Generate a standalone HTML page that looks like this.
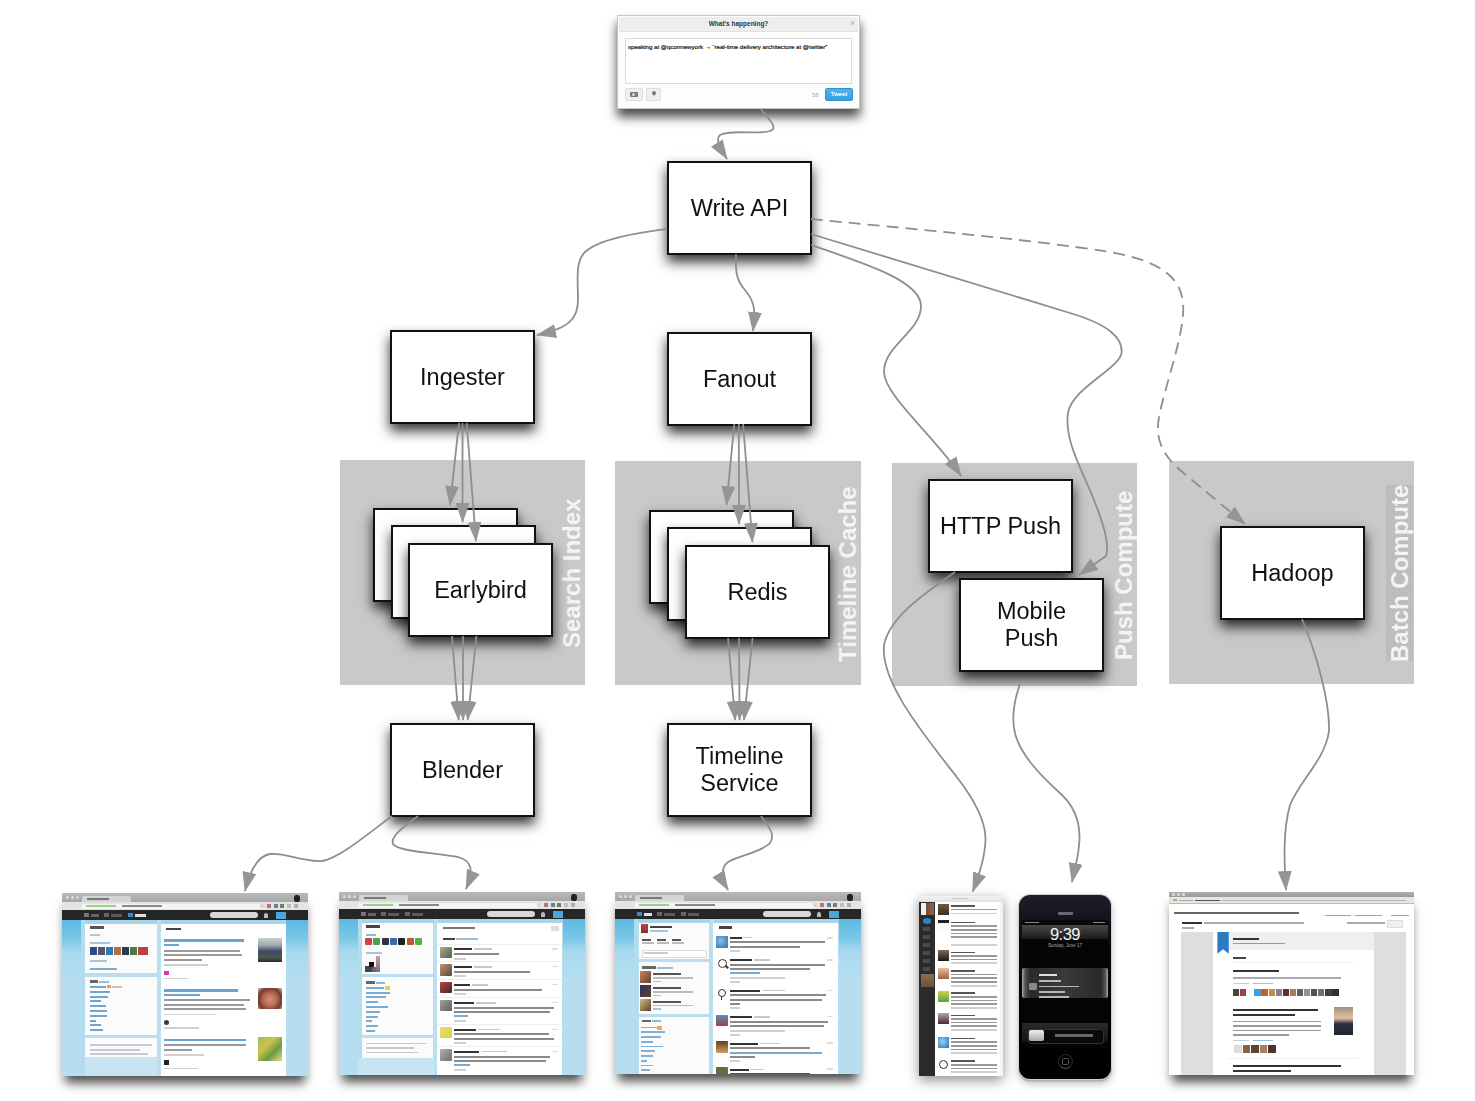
<!DOCTYPE html>
<html><head><meta charset="utf-8">
<style>
html,body{margin:0;padding:0;background:#fff;}
body{width:1475px;height:1101px;position:relative;overflow:hidden;font-family:"Liberation Sans",sans-serif;}
.abs{position:absolute;}
.panel{position:absolute;background:#c9c9c9;}
.plabel{position:absolute;font-weight:bold;font-size:24px;color:#f4f4f4;white-space:nowrap;transform-origin:0 0;transform:rotate(-90deg);line-height:24px;}
.box{position:absolute;box-sizing:border-box;width:145px;height:94px;border:2px solid #111;background:#fff;box-shadow:0 7px 12px rgba(0,0,0,0.8);display:flex;align-items:center;justify-content:center;text-align:center;font-size:23.5px;line-height:27px;color:#111;will-change:transform;}
svg{position:absolute;left:0;top:0;}
.ss{position:absolute;overflow:hidden;box-shadow:0 10px 10px -3px rgba(0,0,0,0.7);background:#b8def0;}
.ss div{position:absolute;}
.tab{top:0;left:0;width:100%;height:9px;background:linear-gradient(#b9b9bd,#a6a6ab);}
.addr{top:9px;left:0;width:100%;height:8px;background:#e4e4e4;border-bottom:0.5px solid #bbb;}
.nav{top:17px;left:0;width:100%;height:10px;background:#262626;}
.bgl{top:27px;height:160px;background:linear-gradient(#5cb8e0 0px,#7cc8e8 20px,#a8d9ee 32px,#b5def0 60px);}
.wp{background:#fbfbfb;}
.t{height:2px;background:#c2c2c2;}
.tb{height:2.5px;background:#6aa5d2;}
.td{height:2.5px;background:#555;}
.dev{position:absolute;overflow:hidden;}
.dev div{position:absolute;}
</style></head><body>
<div class="panel" style="left:340px;top:460px;width:245px;height:225px;"></div>
<div class="panel" style="left:615px;top:461px;width:246px;height:224px;"></div>
<div class="panel" style="left:892px;top:463px;width:245px;height:223px;"></div>
<div class="panel" style="left:1169px;top:461px;width:245px;height:223px;"></div>
<div class="abs" style="left:1386px;top:485px;width:27px;height:176px;background:#bdbdbd;"></div>
<div class="plabel" style="left:560px;top:648px;">Search Index</div>
<div class="plabel" style="left:836px;top:662px;">Timeline Cache</div>
<div class="plabel" style="left:1112px;top:660px;">Push Compute</div>
<div class="plabel" style="left:1388px;top:662px;">Batch Compute</div>
<div class="box" style="left:667px;top:161px;">Write API</div>
<div class="box" style="left:390px;top:330px;">Ingester</div>
<div class="box" style="left:667px;top:332px;">Fanout</div>
<div class="box" style="left:373px;top:508px;"></div>
<div class="box" style="left:391px;top:525px;"></div>
<div class="box" style="left:408px;top:543px;">Earlybird</div>
<div class="box" style="left:649px;top:510px;"></div>
<div class="box" style="left:667px;top:527px;"></div>
<div class="box" style="left:685px;top:545px;">Redis</div>
<div class="box" style="left:928px;top:479px;">HTTP Push</div>
<div class="box" style="left:959px;top:578px;">Mobile<br>Push</div>
<div class="box" style="left:1220px;top:526px;">Hadoop</div>
<div class="box" style="left:390px;top:723px;">Blender</div>
<div class="box" style="left:667px;top:723px;">Timeline<br>Service</div>
<div id="tweet" class="abs" style="left:617px;top:15px;width:243px;height:94px;box-sizing:border-box;background:#fdfdfd;border:1px solid #c4c4c4;box-shadow:0 8px 10px rgba(0,0,0,0.7);">
 <div class="abs" style="left:1px;top:1px;width:239px;height:14px;background:#eeeeee;border-bottom:1px solid #e2e2e2;"></div>
 <div class="abs" style="left:0;top:4px;width:241px;text-align:center;font:bold 6.5px/8px 'Liberation Sans',sans-serif;color:#333;">What's happening?</div>
 <div class="abs" style="left:232px;top:3px;font:9px/9px 'Liberation Sans',sans-serif;color:#aaa;">&#215;</div>
 <div class="abs" style="left:7px;top:22px;width:227px;height:46px;box-sizing:border-box;border:1px solid #dadada;background:#fff;"></div>
 <div class="abs" style="left:10px;top:27px;font:6.1px/8px 'Liberation Sans',sans-serif;color:#111;-webkit-text-stroke:0.2px #222;white-space:nowrap;">speaking at @qconnewyork &#8594; &#8220;real-time delivery architecture at @twitter&#8221;</div>
 <div class="abs" style="left:7px;top:72px;width:18px;height:13px;box-sizing:border-box;background:#f0f0f0;border:1px solid #ddd;border-radius:2px;"></div>
 <div class="abs" style="left:11.5px;top:76px;width:8px;height:5px;background:#777;border-radius:1px;"></div>
 <div class="abs" style="left:14px;top:77px;width:3px;height:3px;background:#ddd;border-radius:50%;"></div>
 <div class="abs" style="left:28px;top:72px;width:15px;height:13px;box-sizing:border-box;background:#f0f0f0;border:1px solid #ddd;border-radius:2px;"></div>
 <div class="abs" style="left:33.5px;top:75px;width:4px;height:4px;background:#777;border-radius:50% 50% 50% 0;transform:rotate(-45deg);"></div>
 <div class="abs" style="left:194px;top:76px;font:6px/6px 'Liberation Sans',sans-serif;color:#aaa;">58</div>
 <div class="abs" style="left:207px;top:72px;width:28px;height:13px;box-sizing:border-box;background:linear-gradient(#52b4e8,#33a0dc);border:1px solid #2e94d0;border-radius:2px;color:#fff;font:bold 6px/11px 'Liberation Sans',sans-serif;text-align:center;">Tweet</div>
</div>

<!-- SS1 -->
<div class="ss" style="left:62px;top:893px;width:246px;height:183px;">
 <div class="tab"></div>
 <div style="left:4px;top:3px;width:3px;height:3px;border-radius:50%;background:#ddd;"></div>
 <div style="left:9px;top:3px;width:3px;height:3px;border-radius:50%;background:#ddd;"></div>
 <div style="left:14px;top:3px;width:3px;height:3px;border-radius:50%;background:#ddd;"></div>
 <div style="left:20px;top:3px;width:49px;height:6px;background:#d4d4d6;border-radius:2px 2px 0 0;"></div>
 <div style="left:25px;top:5px;width:22px;height:1.5px;background:#777;"></div>
 <div style="left:232px;top:1.5px;width:6px;height:7px;background:#222;border-radius:40%;"></div>
 <div class="addr"></div>
 <div style="left:20px;top:10.5px;width:180px;height:5px;background:#f4f4f4;"></div>
 <div style="left:24px;top:12px;width:30px;height:2px;background:#9bd08a;"></div>
 <div style="left:60px;top:12px;width:40px;height:2px;background:#8a8a8a;"></div>
 <div style="left:198.0px;top:11px;width:4px;height:4px;background:#e8d0d0;"></div><div style="left:204.8px;top:11px;width:4px;height:4px;background:#c07070;"></div><div style="left:211.6px;top:11px;width:4px;height:4px;background:#6080a0;"></div><div style="left:218.4px;top:11px;width:4px;height:4px;background:#708060;"></div><div style="left:225.2px;top:11px;width:4px;height:4px;background:#c0c0c0;"></div><div style="left:232.0px;top:11px;width:4px;height:4px;background:#b0b0b0;"></div>
 <div class="nav"></div>
 <div style="left:22px;top:20px;width:5px;height:4px;background:#777;"></div>
 <div style="left:29px;top:20.5px;width:8px;height:3px;background:#666;"></div>
 <div style="left:42px;top:20px;width:5px;height:4px;background:#666;"></div>
 <div style="left:49px;top:20.5px;width:11px;height:3px;background:#5a5a5a;"></div>
 <div style="left:66px;top:20px;width:5px;height:4px;background:#3a8ad0;"></div>
 <div style="left:73px;top:20.5px;width:11px;height:3px;background:#e0e0e0;"></div>
 <div style="left:147.5px;top:19px;width:48px;height:6px;background:#d8d8d8;border-radius:3px;"></div>
 <div style="left:201.5px;top:19.5px;width:4px;height:5.5px;background:#bbb;border-radius:2px 2px 0 0;"></div>
 <div style="left:214px;top:18.5px;width:9.5px;height:7px;background:#4aa6dc;"></div>
 <div class="bgl" style="left:0;width:19px;"></div>
 <div class="bgl" style="left:223.5px;width:23px;"></div>
 <div style="left:19px;top:27px;width:204.5px;height:4px;background:#a6d5ea;"></div>
 <div style="left:19px;top:27px;width:4px;height:156px;background:#b4dcef;"></div>
 <div style="left:95px;top:27px;width:4px;height:156px;background:#b9dff0;"></div>
 <div class="wp" style="left:23px;top:30.5px;width:72px;height:49.5px;"></div>
 <div class="td" style="left:28px;top:33px;width:14px;background:#555;"></div>
 <div class="t" style="left:28px;top:41px;width:10px;"></div>
 <div class="t" style="left:28px;top:49px;width:20px;background:#a9c4d8;"></div>
 <div style="left:28px;top:53.5px;width:58px;height:8px;background:linear-gradient(90deg,#2a4a8a 0,#2a4a8a 7px,#fff 7px,#fff 8px,#556 8px,#556 15px,#fff 15px,#fff 16px,#2c7ab0 16px,#2c7ab0 23px,#fff 23px,#fff 24px,#b07040 24px,#b07040 31px,#fff 31px,#fff 32px,#2a3a50 32px,#2a3a50 39px,#fff 39px,#fff 40px,#4a7a4a 40px,#4a7a4a 47px,#fff 47px,#fff 48px,#c04040 48px,#c04040 56px);"></div>
 <div class="t" style="left:28px;top:67px;width:17px;background:#a9c4d8;"></div>
 <div class="t" style="left:28px;top:75px;width:27px;background:#7ea9cc;"></div>
 <div class="wp" style="left:23px;top:84px;width:72px;height:57.7px;"></div>
 <div class="td" style="left:28px;top:87px;width:8px;background:#666;"></div>
 <div class="t" style="left:37px;top:87.5px;width:10px;background:#9cc0dc;"></div>
 <div class="t" style="left:28px;top:92.5px;width:16px;background:#6fa5d0;"></div>
 <div style="left:45px;top:91.5px;width:4px;height:3.5px;background:#f0a040;"></div>
 <div class="t" style="left:50px;top:92.5px;width:10px;background:#d8c0a0;"></div>
 <div class="t" style="left:28px;top:97.5px;width:20px;background:#6fa5d0;"></div>
 <div class="t" style="left:28px;top:102.5px;width:18px;background:#6fa5d0;"></div>
 <div class="t" style="left:28px;top:107px;width:11px;background:#6fa5d0;"></div>
 <div class="t" style="left:28px;top:111.5px;width:16px;background:#6fa5d0;"></div>
 <div class="t" style="left:28px;top:116.5px;width:17px;background:#6fa5d0;"></div>
 <div class="t" style="left:28px;top:121.5px;width:17px;background:#6fa5d0;"></div>
 <div class="t" style="left:28px;top:126.5px;width:6px;background:#6fa5d0;"></div>
 <div class="t" style="left:28px;top:131px;width:11px;background:#6fa5d0;"></div>
 <div class="t" style="left:28px;top:136px;width:13px;background:#6fa5d0;"></div>
 <div class="wp" style="left:23px;top:145px;width:72px;height:18.5px;"></div>
 <div class="t" style="left:28px;top:151px;width:62px;background:#c8c8d0;"></div>
 <div class="t" style="left:28px;top:155.5px;width:50px;background:#c8c8d0;"></div>
 <div class="t" style="left:28px;top:160px;width:58px;background:#c8c8d0;height:1.5px;"></div>
 <div style="left:23px;top:163.5px;width:72px;height:20px;background:#c8e4f2;"></div>
 <div class="wp" style="left:99px;top:30.5px;width:124.5px;height:152.5px;background:#fff;"></div>
 <div class="td" style="left:104px;top:34.5px;width:15px;background:#444;"></div>
 <div class="tb" style="left:102px;top:46px;width:80px;"></div>
 <div class="tb" style="left:102px;top:50.8px;width:15px;"></div>
 <div class="t" style="left:102px;top:57px;width:76px;background:#9a9a9a;"></div>
 <div class="t" style="left:102px;top:61.2px;width:78px;background:#9a9a9a;"></div>
 <div class="t" style="left:102px;top:65.6px;width:38px;background:#9a9a9a;"></div>
 <div class="t" style="left:102px;top:71px;width:44px;background:#d0d0d0;height:1.5px;"></div>
 <div style="left:102px;top:78px;width:5px;height:4px;background:#d040a0;"></div>
 <div class="t" style="left:102px;top:84.5px;width:24px;background:#d0d0d0;height:1.5px;"></div>
 <div style="left:196px;top:45.2px;width:24px;height:23.5px;background:linear-gradient(#c8d0d0 0,#a0a8b0 30%,#3a4a6a 55%,#4a5a4a 80%,#2a3020 100%);"></div>
 <div class="tb" style="left:102px;top:96px;width:74px;"></div>
 <div class="tb" style="left:102px;top:100.6px;width:36px;"></div>
 <div class="t" style="left:102px;top:106.3px;width:86px;background:#9a9a9a;"></div>
 <div class="t" style="left:102px;top:110.5px;width:80px;background:#9a9a9a;"></div>
 <div class="t" style="left:102px;top:114.9px;width:82px;background:#9a9a9a;"></div>
 <div class="t" style="left:102px;top:120.5px;width:52px;background:#d0d0d0;height:1.5px;"></div>
 <div style="left:102px;top:127px;width:5px;height:5px;background:#443a3a;border-radius:50%;"></div>
 <div class="t" style="left:102px;top:134px;width:35px;background:#d0d0d0;height:1.5px;"></div>
 <div style="left:196px;top:95px;width:24px;height:20.5px;background:radial-gradient(circle at 50% 55%,#d89080 0,#b86a50 40%,#703830 70%,#d8c8c0 100%);"></div>
 <div class="tb" style="left:102px;top:145.5px;width:82px;"></div>
 <div class="t" style="left:102px;top:151px;width:82px;background:#9a9a9a;"></div>
 <div class="t" style="left:102px;top:155.6px;width:28px;background:#9a9a9a;"></div>
 <div class="t" style="left:102px;top:161px;width:40px;background:#d0d0d0;height:1.5px;"></div>
 <div style="left:102px;top:166.5px;width:5px;height:5px;background:#222;"></div>
 <div class="t" style="left:102px;top:174.5px;width:34px;background:#d0d0d0;height:1.5px;"></div>
 <div style="left:196px;top:144px;width:24px;height:24px;background:linear-gradient(135deg,#9ac060 0,#d0c050 35%,#6a9a40 65%,#e0e090 100%);"></div>
</div>


<!-- SS2 -->
<div class="ss" style="left:339px;top:892px;width:246px;height:183px;">
<div class="tab"></div>
<div style="left:4px;top:3px;width:3px;height:3px;background:#dcdcdc;border-radius:50%;"></div>
<div style="left:9px;top:3px;width:3px;height:3px;background:#dcdcdc;border-radius:50%;"></div>
<div style="left:14px;top:3px;width:3px;height:3px;background:#dcdcdc;border-radius:50%;"></div>
<div style="left:20px;top:3px;width:49px;height:6px;background:#d4d4d6;border-radius:2px 2px 0 0;"></div>
<div style="left:25px;top:5px;width:22px;height:1.5px;background:#777;"></div>
<div style="left:232px;top:1.5px;width:6px;height:7px;background:#222;border-radius:40%;"></div>
<div class="addr"></div>
<div style="left:20px;top:10.5px;width:180px;height:5px;background:#f4f4f4;"></div>
<div style="left:24px;top:12px;width:30px;height:2px;background:#9bd08a;"></div>
<div style="left:60px;top:12px;width:40px;height:2px;background:#8a8a8a;"></div>
<div style="left:198.0px;top:11px;width:4px;height:4px;background:#e8d0d0;"></div>
<div style="left:204.8px;top:11px;width:4px;height:4px;background:#c07070;"></div>
<div style="left:211.6px;top:11px;width:4px;height:4px;background:#6080a0;"></div>
<div style="left:218.4px;top:11px;width:4px;height:4px;background:#708060;"></div>
<div style="left:225.2px;top:11px;width:4px;height:4px;background:#c0c0c0;"></div>
<div style="left:232.0px;top:11px;width:4px;height:4px;background:#b0b0b0;"></div>
<div class="nav"></div>
<div style="left:22px;top:20px;width:5px;height:4px;background:#777;"></div>
<div style="left:29px;top:20.5px;width:8px;height:3px;background:#666;"></div>
<div style="left:42px;top:20px;width:5px;height:4px;background:#666;"></div>
<div style="left:49px;top:20.5px;width:11px;height:3px;background:#5a5a5a;"></div>
<div style="left:66px;top:20px;width:5px;height:4px;background:#666;"></div>
<div style="left:73px;top:20.5px;width:11px;height:3px;background:#5a5a5a;"></div>
<div style="left:147.5px;top:19px;width:48px;height:6px;background:#d8d8d8;border-radius:3px;"></div>
<div style="left:201.5px;top:19.5px;width:4px;height:5.5px;background:#bbb;border-radius:2px 2px 0 0;"></div>
<div style="left:214px;top:18.5px;width:9.5px;height:7px;background:#4aa6dc;"></div>
<div class="bgl" style="left:0;width:19px;"></div>
<div class="bgl" style="left:223.5px;width:23px;"></div>
<div style="left:19px;top:27px;width:204.5px;height:4px;background:#a6d5ea;"></div>
<div style="left:19px;top:27px;width:4px;height:156px;background:#b4dcef;"></div>
<div style="left:95px;top:27px;width:4px;height:156px;background:#b9dff0;"></div>
<div style="left:23px;top:30.5px;width:71px;height:51.8px;background:#fbfbfb;"></div>
<div style="left:27px;top:33px;width:14px;height:2.5px;background:#444;"></div>
<div style="left:27px;top:41.8px;width:10px;height:2px;background:#8ab8dc;"></div>
<div style="left:26.0px;top:46px;width:7px;height:7px;background:#d04040;border-radius:1px;"></div>
<div style="left:34.3px;top:46px;width:7px;height:7px;background:#50a050;border-radius:1px;"></div>
<div style="left:42.6px;top:46px;width:7px;height:7px;background:#303040;border-radius:1px;"></div>
<div style="left:50.900000000000006px;top:46px;width:7px;height:7px;background:#3a6ab0;border-radius:1px;"></div>
<div style="left:59.2px;top:46px;width:7px;height:7px;background:#222;border-radius:1px;"></div>
<div style="left:67.5px;top:46px;width:7px;height:7px;background:#b06030;border-radius:1px;"></div>
<div style="left:75.80000000000001px;top:46px;width:7px;height:7px;background:#60b040;border-radius:1px;"></div>
<div style="left:27px;top:59.5px;width:16px;height:2px;background:#a9c4d8;"></div>
<div style="left:25.5px;top:74px;width:7px;height:5.5px;background:#445;"></div>
<div style="left:29.5px;top:70px;width:5px;height:4.5px;background:#111;"></div>
<div style="left:33px;top:75px;width:5px;height:5px;background:#667;"></div>
<div style="left:36.5px;top:63.6px;width:4px;height:16px;background:linear-gradient(#c0a8a8,#806a70);"></div>
<div style="left:23px;top:85px;width:71px;height:57.7px;background:#fbfbfb;"></div>
<div style="left:27px;top:89.3px;width:9px;height:2.5px;background:#666;"></div>
<div style="left:37px;top:89.8px;width:9px;height:2px;background:#8ab8dc;"></div>
<div style="left:27px;top:94.7px;width:18px;height:2px;background:#78acd4;"></div>
<div style="left:27px;top:99.5px;width:24px;height:2px;background:#78acd4;"></div>
<div style="left:27px;top:104.4px;width:20px;height:2px;background:#78acd4;"></div>
<div style="left:27px;top:109.2px;width:12px;height:2px;background:#78acd4;"></div>
<div style="left:27px;top:114px;width:22px;height:2px;background:#78acd4;"></div>
<div style="left:27px;top:118.8px;width:14px;height:2px;background:#78acd4;"></div>
<div style="left:27px;top:123.5px;width:12px;height:2px;background:#78acd4;"></div>
<div style="left:27px;top:128.3px;width:6px;height:2px;background:#78acd4;"></div>
<div style="left:27px;top:133px;width:12px;height:2px;background:#78acd4;"></div>
<div style="left:27px;top:138px;width:9px;height:2px;background:#78acd4;"></div>
<div style="left:46px;top:93.5px;width:5px;height:4px;background:#e8d050;"></div>
<div style="left:23px;top:146px;width:71px;height:19.8px;background:#fbfbfb;"></div>
<div style="left:27px;top:150.7px;width:60px;height:1.6px;background:#c8c8d0;"></div>
<div style="left:27px;top:155.3px;width:48px;height:1.6px;background:#c8c8d0;"></div>
<div style="left:27px;top:159.8px;width:52px;height:1.6px;background:#c8c8d0;"></div>
<div style="left:19px;top:166px;width:76px;height:20px;background:#c8e4f2;"></div>
<div style="left:98px;top:30.5px;width:124.8px;height:152.5px;background:#fff;"></div>
<div style="left:104px;top:34.5px;width:32px;height:2.8px;background:#777;"></div>
<div style="left:212px;top:33.5px;width:8px;height:5px;background:#ddd;"></div>
<div style="left:104px;top:45.5px;width:12px;height:2.5px;background:#444;"></div>
<div style="left:117px;top:46px;width:22px;height:2px;background:#9cc0dc;"></div>
<div style="left:101px;top:54.6px;width:11.6px;height:11.4px;background:linear-gradient(135deg,#c0a090,#3a6a4a);border-radius:1px;"></div>
<div style="left:115.3px;top:56.3px;width:18.0px;height:2px;background:#333;"></div>
<div style="left:135.3px;top:56.3px;width:18.0px;height:1.6px;background:#c8c8c8;"></div>
<div style="left:115.3px;top:60.9px;width:45px;height:2px;background:#8a8a8a;"></div>
<div style="left:115.3px;top:65.5px;width:12px;height:2px;background:#d0d0d0;"></div>
<div style="left:213px;top:56.1px;width:6px;height:1.5px;background:#ddd;"></div>
<div style="left:98px;top:51.6px;width:124.8px;height:0.6px;background:#eee;"></div>
<div style="left:101px;top:72.4px;width:11.6px;height:11.4px;background:linear-gradient(135deg,#c09070,#5a4a3a);border-radius:1px;"></div>
<div style="left:115.3px;top:74px;width:18.0px;height:2px;background:#333;"></div>
<div style="left:135.3px;top:74px;width:18.0px;height:1.6px;background:#c8c8c8;"></div>
<div style="left:115.3px;top:78.7px;width:76px;height:2px;background:#8a8a8a;"></div>
<div style="left:115.3px;top:83.3px;width:12px;height:2px;background:#d0d0d0;"></div>
<div style="left:213px;top:73.9px;width:6px;height:1.5px;background:#ddd;"></div>
<div style="left:98px;top:69.4px;width:124.8px;height:0.6px;background:#eee;"></div>
<div style="left:101px;top:90px;width:11.6px;height:11.4px;background:linear-gradient(135deg,#c04040,#3a2a2a);border-radius:1px;"></div>
<div style="left:115.3px;top:92.4px;width:16.2px;height:2px;background:#333;"></div>
<div style="left:133.3px;top:92.4px;width:16.2px;height:1.6px;background:#c8c8c8;"></div>
<div style="left:115.3px;top:96.8px;width:88px;height:2px;background:#8a8a8a;"></div>
<div style="left:115.3px;top:101.4px;width:12px;height:2px;background:#d0d0d0;"></div>
<div style="left:213px;top:91.5px;width:6px;height:1.5px;background:#ddd;"></div>
<div style="left:98px;top:87px;width:124.8px;height:0.6px;background:#eee;"></div>
<div style="left:101px;top:108px;width:11.6px;height:11.4px;background:linear-gradient(135deg,#a0a0a0,#606060);border-radius:1px;"></div>
<div style="left:115.3px;top:110.2px;width:19.8px;height:2px;background:#333;"></div>
<div style="left:137.3px;top:110.2px;width:19.8px;height:1.6px;background:#c8c8c8;"></div>
<div style="left:115.3px;top:114.8px;width:100px;height:2px;background:#8a8a8a;"></div>
<div style="left:115.3px;top:119.2px;width:96px;height:2px;background:#8a8a8a;"></div>
<div style="left:115.3px;top:123.4px;width:14px;height:2px;background:#7aaad0;"></div>
<div style="left:115.3px;top:127.6px;width:12px;height:2px;background:#d0d0d0;"></div>
<div style="left:213px;top:109.5px;width:6px;height:1.5px;background:#ddd;"></div>
<div style="left:98px;top:105px;width:124.8px;height:0.6px;background:#eee;"></div>
<div style="left:101px;top:135px;width:11.6px;height:11.4px;background:linear-gradient(135deg,#e8e070,#d8d040);border-radius:1px;"></div>
<div style="left:115.3px;top:136.8px;width:21.6px;height:2px;background:#333;"></div>
<div style="left:139.3px;top:136.8px;width:21.6px;height:1.6px;background:#c8c8c8;"></div>
<div style="left:115.3px;top:141.2px;width:95px;height:2px;background:#8a8a8a;"></div>
<div style="left:115.3px;top:145.9px;width:100px;height:2px;background:#8a8a8a;"></div>
<div style="left:115.3px;top:150px;width:12px;height:2px;background:#d0d0d0;"></div>
<div style="left:213px;top:136.5px;width:6px;height:1.5px;background:#ddd;"></div>
<div style="left:98px;top:132px;width:124.8px;height:0.6px;background:#eee;"></div>
<div style="left:101px;top:157.4px;width:11.6px;height:11.4px;background:linear-gradient(135deg,#b0b0b0,#707070);border-radius:1px;"></div>
<div style="left:115.3px;top:158.9px;width:24.75px;height:2px;background:#333;"></div>
<div style="left:142.8px;top:158.9px;width:24.75px;height:1.6px;background:#c8c8c8;"></div>
<div style="left:115.3px;top:163.5px;width:96px;height:2px;background:#8a8a8a;"></div>
<div style="left:115.3px;top:167.9px;width:92px;height:2px;background:#8a8a8a;"></div>
<div style="left:115.3px;top:172.3px;width:16px;height:2px;background:#7aaad0;"></div>
<div style="left:115.3px;top:176.5px;width:12px;height:2px;background:#d0d0d0;"></div>
<div style="left:213px;top:158.9px;width:6px;height:1.5px;background:#ddd;"></div>
<div style="left:98px;top:154.4px;width:124.8px;height:0.6px;background:#eee;"></div>
</div>
<!-- SS3 -->
<div class="ss" style="left:615px;top:892px;width:246px;height:182px;">
<div class="tab"></div>
<div style="left:4px;top:3px;width:3px;height:3px;background:#dcdcdc;border-radius:50%;"></div>
<div style="left:9px;top:3px;width:3px;height:3px;background:#dcdcdc;border-radius:50%;"></div>
<div style="left:14px;top:3px;width:3px;height:3px;background:#dcdcdc;border-radius:50%;"></div>
<div style="left:20px;top:3px;width:49px;height:6px;background:#d4d4d6;border-radius:2px 2px 0 0;"></div>
<div style="left:25px;top:5px;width:22px;height:1.5px;background:#777;"></div>
<div style="left:232px;top:1.5px;width:6px;height:7px;background:#222;border-radius:40%;"></div>
<div class="addr"></div>
<div style="left:20px;top:10.5px;width:180px;height:5px;background:#f4f4f4;"></div>
<div style="left:24px;top:12px;width:30px;height:2px;background:#9bd08a;"></div>
<div style="left:60px;top:12px;width:40px;height:2px;background:#8a8a8a;"></div>
<div style="left:198.0px;top:11px;width:4px;height:4px;background:#e8d0d0;"></div>
<div style="left:204.8px;top:11px;width:4px;height:4px;background:#c07070;"></div>
<div style="left:211.6px;top:11px;width:4px;height:4px;background:#6080a0;"></div>
<div style="left:218.4px;top:11px;width:4px;height:4px;background:#708060;"></div>
<div style="left:225.2px;top:11px;width:4px;height:4px;background:#c0c0c0;"></div>
<div style="left:232.0px;top:11px;width:4px;height:4px;background:#b0b0b0;"></div>
<div class="nav"></div>
<div style="left:22px;top:20px;width:5px;height:4px;background:#777;"></div>
<div style="left:29px;top:20.5px;width:8px;height:3px;background:#666;"></div>
<div style="left:42px;top:20px;width:5px;height:4px;background:#666;"></div>
<div style="left:49px;top:20.5px;width:11px;height:3px;background:#5a5a5a;"></div>
<div style="left:66px;top:20px;width:5px;height:4px;background:#666;"></div>
<div style="left:73px;top:20.5px;width:11px;height:3px;background:#5a5a5a;"></div>
<div style="left:22px;top:20px;width:5px;height:4px;background:#3a8ad0;"></div>
<div style="left:29px;top:20.5px;width:8px;height:3px;background:#e0e0e0;"></div>
<div style="left:147.5px;top:19px;width:48px;height:6px;background:#d8d8d8;border-radius:3px;"></div>
<div style="left:201.5px;top:19.5px;width:4px;height:5.5px;background:#bbb;border-radius:2px 2px 0 0;"></div>
<div style="left:214px;top:18.5px;width:9.5px;height:7px;background:#4aa6dc;"></div>
<div class="bgl" style="left:0;width:19px;"></div>
<div class="bgl" style="left:223.5px;width:23px;"></div>
<div style="left:19px;top:27px;width:204.5px;height:4px;background:#a6d5ea;"></div>
<div style="left:19px;top:27px;width:4px;height:156px;background:#b4dcef;"></div>
<div style="left:95px;top:27px;width:4px;height:156px;background:#b9dff0;"></div>
<div style="left:23.8px;top:30.5px;width:70.2px;height:36.7px;background:#fbfbfb;"></div>
<div style="left:26px;top:32px;width:7px;height:9px;background:linear-gradient(#c04040,#803030);"></div>
<div style="left:35px;top:33.5px;width:22px;height:2.5px;background:#444;"></div>
<div style="left:35px;top:38px;width:18px;height:1.5px;background:#a9c4d8;"></div>
<div style="left:27px;top:47px;width:9px;height:2.2px;background:#555;"></div>
<div style="left:27px;top:50px;width:12px;height:1.5px;background:#bbb;"></div>
<div style="left:42px;top:47px;width:9px;height:2.2px;background:#555;"></div>
<div style="left:42px;top:50px;width:12px;height:1.5px;background:#bbb;"></div>
<div style="left:57px;top:47px;width:9px;height:2.2px;background:#555;"></div>
<div style="left:57px;top:50px;width:12px;height:1.5px;background:#bbb;"></div>
<div style="left:27px;top:57.7px;width:63px;height:6.3px;background:#fff;border:0.5px solid #ddd;"></div>
<div style="left:29px;top:60px;width:24px;height:1.5px;background:#ccc;"></div>
<div style="left:23.8px;top:70.3px;width:70.2px;height:51.4px;background:#fbfbfb;"></div>
<div style="left:27px;top:74px;width:14px;height:2.5px;background:#666;"></div>
<div style="left:42px;top:74.5px;width:16px;height:2px;background:#9cc0dc;"></div>
<div style="left:25px;top:79px;width:11px;height:12px;background:linear-gradient(135deg,#d08060,#604030);"></div>
<div style="left:38px;top:81px;width:28px;height:2.2px;background:#555;"></div>
<div style="left:38px;top:85px;width:40px;height:1.6px;background:#bbb;"></div>
<div style="left:38px;top:88.5px;width:8px;height:1.6px;background:#a9c4d8;"></div>
<div style="left:25px;top:93px;width:11px;height:12px;background:linear-gradient(135deg,#303060,#604030);"></div>
<div style="left:38px;top:95px;width:28px;height:2.2px;background:#555;"></div>
<div style="left:38px;top:99px;width:40px;height:1.6px;background:#bbb;"></div>
<div style="left:38px;top:102.5px;width:8px;height:1.6px;background:#a9c4d8;"></div>
<div style="left:25px;top:106.6px;width:11px;height:12px;background:linear-gradient(135deg,#c8c080,#604030);"></div>
<div style="left:38px;top:108.6px;width:28px;height:2.2px;background:#555;"></div>
<div style="left:38px;top:112.6px;width:40px;height:1.6px;background:#bbb;"></div>
<div style="left:38px;top:116.1px;width:8px;height:1.6px;background:#a9c4d8;"></div>
<div style="left:23.8px;top:124.9px;width:70.2px;height:60px;background:#fbfbfb;"></div>
<div style="left:27px;top:127.5px;width:9px;height:2.5px;background:#666;"></div>
<div style="left:37px;top:128px;width:9px;height:2px;background:#8ab8dc;"></div>
<div style="left:26px;top:134.7px;width:18px;height:1.7px;background:#80b0d6;"></div>
<div style="left:26px;top:139.2px;width:24px;height:1.7px;background:#80b0d6;"></div>
<div style="left:26px;top:144.1px;width:20px;height:1.7px;background:#80b0d6;"></div>
<div style="left:26px;top:148.9px;width:12px;height:1.7px;background:#80b0d6;"></div>
<div style="left:26px;top:153.7px;width:22px;height:1.7px;background:#80b0d6;"></div>
<div style="left:26px;top:158.4px;width:14px;height:1.7px;background:#80b0d6;"></div>
<div style="left:26px;top:163.2px;width:12px;height:1.7px;background:#80b0d6;"></div>
<div style="left:26px;top:168px;width:6px;height:1.7px;background:#80b0d6;"></div>
<div style="left:26px;top:172.6px;width:12px;height:1.7px;background:#80b0d6;"></div>
<div style="left:26px;top:177.4px;width:9px;height:1.7px;background:#80b0d6;"></div>
<div style="left:42px;top:133.7px;width:5px;height:4px;background:#e8b050;"></div>
<div style="left:98.3px;top:30.5px;width:124.7px;height:152.5px;background:#fff;"></div>
<div style="left:104px;top:34px;width:13px;height:2.8px;background:#444;"></div>
<div style="left:101.4px;top:44.1px;width:11.6px;height:11.5px;background:radial-gradient(circle at 40% 40%,#8ac0e8,#2a6aa8);border-radius:1px;"></div>
<div style="left:115px;top:44.7px;width:12.100000000000001px;height:2px;background:#333;"></div>
<div style="left:128.2px;top:44.7px;width:8.8px;height:1.6px;background:#c8c8c8;"></div>
<div style="left:115px;top:49.3px;width:95px;height:2px;background:#8a8a8a;"></div>
<div style="left:115px;top:53.7px;width:70px;height:2px;background:#8a8a8a;"></div>
<div style="left:115px;top:58.2px;width:10px;height:2px;background:#d0d0d0;"></div>
<div style="left:212px;top:45.1px;width:6px;height:1.5px;background:#ddd;"></div>
<div style="left:101.4px;top:66px;width:11.6px;height:11.5px;background:#fff;border-radius:1px;"></div>
<div style="left:115px;top:67px;width:22.0px;height:2px;background:#333;"></div>
<div style="left:139.0px;top:67px;width:16.0px;height:1.6px;background:#c8c8c8;"></div>
<div style="left:115px;top:71.6px;width:95px;height:2px;background:#8a8a8a;"></div>
<div style="left:115px;top:75.8px;width:80px;height:2px;background:#8a8a8a;"></div>
<div style="left:115px;top:80.2px;width:30px;height:2px;background:#7aaad0;"></div>
<div style="left:115px;top:84.6px;width:55px;height:2px;background:#d0d0d0;"></div>
<div style="left:115px;top:88.8px;width:10px;height:2px;background:#d0d0d0;"></div>
<div style="left:212px;top:67px;width:6px;height:1.5px;background:#ddd;"></div>
<div style="left:101.4px;top:96.5px;width:11.6px;height:11.5px;background:#fff;border-radius:1px;"></div>
<div style="left:115px;top:97.6px;width:30.250000000000004px;height:2px;background:#333;"></div>
<div style="left:148.0px;top:97.6px;width:22.0px;height:1.6px;background:#c8c8c8;"></div>
<div style="left:115px;top:102.2px;width:96px;height:2px;background:#8a8a8a;"></div>
<div style="left:115px;top:106.6px;width:92px;height:2px;background:#8a8a8a;"></div>
<div style="left:115px;top:111px;width:10px;height:2px;background:#8a8a8a;"></div>
<div style="left:115px;top:115.4px;width:10px;height:2px;background:#d0d0d0;"></div>
<div style="left:212px;top:97.5px;width:6px;height:1.5px;background:#ddd;"></div>
<div style="left:101.4px;top:122.8px;width:11.6px;height:11.5px;background:linear-gradient(#5090c0,#a04040);border-radius:1px;"></div>
<div style="left:115px;top:124.2px;width:22.0px;height:2px;background:#333;"></div>
<div style="left:139.0px;top:124.2px;width:16.0px;height:1.6px;background:#c8c8c8;"></div>
<div style="left:115px;top:128.6px;width:98px;height:2px;background:#8a8a8a;"></div>
<div style="left:115px;top:133px;width:94px;height:2px;background:#8a8a8a;"></div>
<div style="left:115px;top:137.5px;width:55px;height:2px;background:#d0d0d0;"></div>
<div style="left:115px;top:141.7px;width:10px;height:2px;background:#d0d0d0;"></div>
<div style="left:212px;top:123.8px;width:6px;height:1.5px;background:#ddd;"></div>
<div style="left:101.4px;top:149px;width:11.6px;height:11.5px;background:linear-gradient(#604020,#d0a060);border-radius:1px;"></div>
<div style="left:115px;top:150.7px;width:27.500000000000004px;height:2px;background:#333;"></div>
<div style="left:145.0px;top:150.7px;width:20.0px;height:1.6px;background:#c8c8c8;"></div>
<div style="left:115px;top:155.3px;width:80px;height:2px;background:#8a8a8a;"></div>
<div style="left:115px;top:159.5px;width:92px;height:2px;background:#7aaad0;"></div>
<div style="left:115px;top:163.9px;width:25px;height:2px;background:#8a8a8a;"></div>
<div style="left:115px;top:168.3px;width:10px;height:2px;background:#d0d0d0;"></div>
<div style="left:212px;top:150px;width:6px;height:1.5px;background:#ddd;"></div>
<div style="left:101.4px;top:175px;width:11.6px;height:11.5px;background:linear-gradient(#408040,#c04040);border-radius:1px;"></div>
<div style="left:115px;top:176.9px;width:18.700000000000003px;height:2px;background:#333;"></div>
<div style="left:135.4px;top:176.9px;width:13.600000000000001px;height:1.6px;background:#c8c8c8;"></div>
<div style="left:115px;top:181px;width:80px;height:2px;background:#555;"></div>
<div style="left:212px;top:176px;width:6px;height:1.5px;background:#ddd;"></div>
<div style="left:102.5px;top:67px;width:7px;height:7px;background:transparent;border:1.5px solid #333;border-radius:50%;"></div>
<div style="left:110px;top:74px;width:4px;height:1.5px;background:#333;transform:rotate(45deg);"></div>
<div style="left:103px;top:97px;width:6px;height:6px;background:transparent;border:1.5px solid #333;border-radius:50%;"></div>
<div style="left:105.5px;top:104px;width:1.5px;height:4px;background:#333;"></div>
</div>
<!-- MAC -->
<div class="dev" style="left:919px;top:896px;width:84px;height:180px;background:#fff;box-shadow:0 4px 12px rgba(0,0,0,0.45);">
<div style="left:0px;top:0px;width:84px;height:6px;background:linear-gradient(#f2f2f2,#e2e2e2);"></div>
<div style="left:32px;top:2px;width:18px;height:1.2px;background:#c8c8c8;"></div>
<div style="left:0px;top:6px;width:16px;height:174px;background:#2b2b2b;"></div>
<div style="left:2px;top:7px;width:13px;height:12px;background:linear-gradient(90deg,#f0f0f0 0,#f0f0f0 35%,#6a4a30 36%,#8a6a50 100%);"></div>
<div style="left:3.5px;top:22px;width:8px;height:5.5px;background:#2a86c8;border-radius:50%;"></div>
<div style="left:4px;top:31px;width:7px;height:4px;background:#4a4a4a;"></div>
<div style="left:4px;top:39px;width:7px;height:4px;background:#4a4a4a;"></div>
<div style="left:4px;top:47px;width:7px;height:4px;background:#4a4a4a;"></div>
<div style="left:4px;top:55px;width:7px;height:4px;background:#4a4a4a;"></div>
<div style="left:4px;top:63px;width:7px;height:4px;background:#4a4a4a;"></div>
<div style="left:4px;top:71px;width:7px;height:4px;background:#4a4a4a;"></div>
<div style="left:2px;top:78px;width:13px;height:13px;background:linear-gradient(#8a7050,#6a5040);"></div>
<div style="left:81px;top:6px;width:3px;height:174px;background:#f4f4f4;"></div>
<div style="left:18.7px;top:7.8px;width:11.4px;height:11px;background:linear-gradient(#6a5a40,#3a3020);"></div>
<div style="left:18.7px;top:24px;width:11.4px;height:11px;background:linear-gradient(#222 0,#222 30%,#fafafa 31%);"></div>
<div style="left:18.7px;top:53.7px;width:11.4px;height:11px;background:linear-gradient(#806a5a,#201810);"></div>
<div style="left:18.7px;top:72.3px;width:11.4px;height:11px;background:linear-gradient(#e8c0a0,#a06040);"></div>
<div style="left:18.7px;top:94.7px;width:11.4px;height:11px;background:linear-gradient(#d0d050,#60a040);"></div>
<div style="left:18.7px;top:117.2px;width:11.4px;height:11px;background:linear-gradient(#c0a0a0,#403030);"></div>
<div style="left:18.7px;top:141.3px;width:11.4px;height:11px;background:radial-gradient(circle at 40% 40%,#9ad0f0,#2a70b0);"></div>
<div style="left:18.7px;top:163.6px;width:11.4px;height:11px;background:#fff;"></div>
<div style="left:19.5px;top:164px;width:7px;height:7px;background:transparent;border:1.3px solid #333;border-radius:50%;"></div>
<div style="left:32.3px;top:9.3px;width:24px;height:1.8px;background:#555;"></div>
<div style="left:32.3px;top:12.6px;width:46px;height:1.8px;background:#999;"></div>
<div style="left:32.3px;top:16.5px;width:46px;height:1.8px;background:#d0d0d0;"></div>
<div style="left:32.3px;top:25.7px;width:24px;height:1.8px;background:#555;"></div>
<div style="left:32.3px;top:29.2px;width:46px;height:1.8px;background:#999;"></div>
<div style="left:32.3px;top:33px;width:46px;height:1.8px;background:#999;"></div>
<div style="left:32.3px;top:36.7px;width:46px;height:1.8px;background:#999;"></div>
<div style="left:32.3px;top:40.2px;width:46px;height:1.8px;background:#999;"></div>
<div style="left:32.3px;top:48.3px;width:46px;height:1.8px;background:#d0d0d0;"></div>
<div style="left:32.3px;top:55.5px;width:24px;height:1.8px;background:#555;"></div>
<div style="left:32.3px;top:59.2px;width:46px;height:1.8px;background:#999;"></div>
<div style="left:32.3px;top:62.7px;width:46px;height:1.8px;background:#999;"></div>
<div style="left:32.3px;top:66.4px;width:46px;height:1.8px;background:#d0d0d0;"></div>
<div style="left:32.3px;top:73.9px;width:24px;height:1.8px;background:#555;"></div>
<div style="left:32.3px;top:77.6px;width:46px;height:1.8px;background:#999;"></div>
<div style="left:32.3px;top:81.3px;width:46px;height:1.8px;background:#999;"></div>
<div style="left:32.3px;top:85px;width:46px;height:1.8px;background:#999;"></div>
<div style="left:32.3px;top:88.8px;width:46px;height:1.8px;background:#d0d0d0;"></div>
<div style="left:32.3px;top:96.4px;width:24px;height:1.8px;background:#555;"></div>
<div style="left:32.3px;top:100.1px;width:46px;height:1.8px;background:#999;"></div>
<div style="left:32.3px;top:103.6px;width:46px;height:1.8px;background:#999;"></div>
<div style="left:32.3px;top:107.4px;width:46px;height:1.8px;background:#999;"></div>
<div style="left:32.3px;top:111px;width:46px;height:1.8px;background:#d0d0d0;"></div>
<div style="left:32.3px;top:118.5px;width:24px;height:1.8px;background:#555;"></div>
<div style="left:32.3px;top:122px;width:46px;height:1.8px;background:#999;"></div>
<div style="left:32.3px;top:125.5px;width:46px;height:1.8px;background:#999;"></div>
<div style="left:32.3px;top:129.2px;width:46px;height:1.8px;background:#999;"></div>
<div style="left:32.3px;top:133px;width:46px;height:1.8px;background:#d0d0d0;"></div>
<div style="left:32.3px;top:141.7px;width:24px;height:1.8px;background:#555;"></div>
<div style="left:32.3px;top:145.2px;width:46px;height:1.8px;background:#999;"></div>
<div style="left:32.3px;top:149px;width:46px;height:1.8px;background:#999;"></div>
<div style="left:32.3px;top:152.7px;width:46px;height:1.8px;background:#999;"></div>
<div style="left:32.3px;top:156px;width:46px;height:1.8px;background:#d0d0d0;"></div>
<div style="left:32.3px;top:164.3px;width:24px;height:1.8px;background:#555;"></div>
<div style="left:32.3px;top:168px;width:46px;height:1.8px;background:#999;"></div>
<div style="left:32.3px;top:171.5px;width:46px;height:1.8px;background:#999;"></div>
<div style="left:32.3px;top:175.2px;width:46px;height:1.8px;background:#d0d0d0;"></div>
</div>
<!-- IPHONE -->
<div class="dev" style="left:1019px;top:895px;width:92px;height:184px;border-radius:11px;background:linear-gradient(#1e1e2a,#0a0a0e 25%,#020202 60%,#000);box-shadow:0 0 0 1px #d0d0d0,0 1.5px 0 1px #b0b0b0,0 4px 8px rgba(0,0,0,0.3);">
<div style="left:39px;top:17px;width:15px;height:2.5px;background:#6a6a70;border-radius:1px;"></div>
<div style="left:3.4px;top:24.8px;width:85.9px;height:128.2px;background:#050505;"></div>
<div style="left:3.4px;top:24.8px;width:85.9px;height:5.2px;background:#0a0a0a;"></div>
<div style="left:6px;top:26.5px;width:14px;height:1.2px;background:#888;"></div>
<div style="left:74px;top:26.5px;width:12px;height:1.2px;background:#888;"></div>
<div style="left:3.4px;top:30px;width:85.9px;height:14px;background:linear-gradient(#4a4a4a,#1a1a1a);"></div>
<div style="left:0;top:31px;width:92px;text-align:center;font:300 16.5px/16px 'Liberation Sans',sans-serif;color:#f4f4f4;letter-spacing:-0.5px;">9:39</div>
<div style="left:0;top:47.5px;width:92px;text-align:center;font:4.6px/5px 'Liberation Sans',sans-serif;color:#aaa;">Sunday, June 17</div>
<div style="left:3.4px;top:73.3px;width:85.9px;height:29.6px;background:linear-gradient(90deg,#aaa 0,#555 3px,#2a2a2a 8px,#3a3a3a 50%,#2a2a2a 92%,#555 97%,#aaa 100%);border-radius:2px;"></div>
<div style="left:10px;top:87.6px;width:7.6px;height:7.4px;background:#888;border-radius:1px;"></div>
<div style="left:19.8px;top:79px;width:18px;height:2.2px;background:#e0e0e0;"></div>
<div style="left:19.8px;top:84.8px;width:22px;height:1.8px;background:#b8b8b8;"></div>
<div style="left:19.8px;top:90.5px;width:40px;height:1.8px;background:#b8b8b8;"></div>
<div style="left:19.8px;top:95.8px;width:26px;height:1.8px;background:#b8b8b8;"></div>
<div style="left:19.8px;top:100.8px;width:30px;height:1.8px;background:#b8b8b8;"></div>
<div style="left:3.4px;top:128px;width:85.9px;height:19px;background:linear-gradient(#2a2a2a,#141414);"></div>
<div style="left:8.9px;top:133.5px;width:74.4px;height:13.2px;background:#0a0a0a;border-radius:3px;border:0.5px solid #333;"></div>
<div style="left:10px;top:134.5px;width:15.3px;height:11px;background:linear-gradient(#eee,#aaa);border-radius:2px;"></div>
<div style="left:36px;top:139px;width:38px;height:2.5px;background:#666;"></div>
<div style="left:38.5px;top:159px;width:15px;height:15px;background:transparent;border:1.5px solid #2a2a2a;border-bottom-color:#555;border-radius:50%;box-sizing:border-box;"></div>
<div style="left:42.5px;top:163px;width:7px;height:7px;background:transparent;border:1px solid #555;border-radius:1.5px;box-sizing:border-box;"></div>
</div>
<!-- GMAIL -->
<div class="ss" style="left:1168.5px;top:892px;width:245.5px;height:182.5px;background:#fff;">
<div style="left:0px;top:0px;width:245.5px;height:5.2px;background:linear-gradient(#b0b0b0,#9a9a9a);"></div>
<div style="left:3px;top:1.2px;width:3px;height:3px;background:#e0e0e0;border-radius:50%;"></div>
<div style="left:8px;top:1.2px;width:3px;height:3px;background:#e0e0e0;border-radius:50%;"></div>
<div style="left:13px;top:1.2px;width:3px;height:3px;background:#e0e0e0;border-radius:50%;"></div>
<div style="left:0px;top:5.2px;width:245.5px;height:6px;background:#e6e6e6;border-bottom:0.6px solid #bbb;"></div>
<div style="left:4px;top:7.3px;width:4px;height:2px;background:#a0c060;"></div>
<div style="left:10px;top:7.5px;width:14px;height:1.5px;background:#aaa;"></div>
<div style="left:26px;top:7.5px;width:25px;height:1.6px;background:#555;"></div>
<div style="left:52px;top:7.5px;width:185px;height:1.5px;background:#b8b8b8;"></div>
<div style="left:5.5px;top:19.5px;width:125px;height:2.6px;background:#666;"></div>
<div style="left:156px;top:22.5px;width:26px;height:1.8px;background:#7aa8d8;"></div>
<div style="left:186px;top:22.5px;width:27px;height:1.8px;background:#7aa8d8;"></div>
<div style="left:222px;top:22.5px;width:18px;height:1.8px;background:#7aa8d8;"></div>
<div style="left:13px;top:30px;width:20px;height:2px;background:#333;"></div>
<div style="left:35px;top:30.3px;width:100px;height:1.5px;background:#aaa;"></div>
<div style="left:13px;top:35px;width:12px;height:1.5px;background:#aaa;"></div>
<div style="left:178px;top:30.3px;width:38px;height:1.5px;background:#aaa;"></div>
<div style="left:218px;top:28px;width:14px;height:6px;background:#f0f0f0;border:0.5px solid #ddd;"></div>
<div style="left:12.9px;top:39.5px;width:31.3px;height:143px;background:#dedede;"></div>
<div style="left:205.8px;top:39.5px;width:31.6px;height:143px;background:#dedede;"></div>
<div style="left:44.2px;top:39.5px;width:161.6px;height:143px;background:#fff;"></div>
<div style="left:60.2px;top:39.5px;width:145.6px;height:18.5px;background:#efefef;"></div>
<div style="left:48.9px;top:39.5px;width:11.4px;height:22.3px;background:#2a7cc2;clip-path:polygon(0 0,100% 0,100% 100%,50% 80%,0 100%);"></div>
<div style="left:64.5px;top:46px;width:26px;height:2.2px;background:#333;"></div>
<div style="left:64.5px;top:50.5px;width:52px;height:1.6px;background:#999;"></div>
<div style="left:64.5px;top:64.8px;width:13px;height:2.4px;background:#444;"></div>
<div style="left:64.5px;top:70.2px;width:120px;height:0.5px;background:#eee;"></div>
<div style="left:64.5px;top:77.5px;width:46px;height:2.3px;background:#333;"></div>
<div style="left:64.5px;top:85px;width:108px;height:1.6px;background:#aaa;"></div>
<div style="left:64.5px;top:91px;width:16px;height:1.4px;background:#ccc;"></div>
<div style="left:84px;top:91px;width:20px;height:1.4px;background:#9cc0e0;"></div>
<div style="left:64.5px;top:96.7px;width:6.3px;height:7.3px;background:#444;"></div>
<div style="left:71.6px;top:96.7px;width:6.3px;height:7.3px;background:#a04040;"></div>
<div style="left:78.7px;top:96.7px;width:6.3px;height:7.3px;background:#fff;"></div>
<div style="left:85.8px;top:96.7px;width:6.3px;height:7.3px;background:#3aa0e0;"></div>
<div style="left:92.9px;top:96.7px;width:6.3px;height:7.3px;background:#c06030;"></div>
<div style="left:100.0px;top:96.7px;width:6.3px;height:7.3px;background:#c09040;"></div>
<div style="left:107.1px;top:96.7px;width:6.3px;height:7.3px;background:#8080a0;"></div>
<div style="left:114.19999999999999px;top:96.7px;width:6.3px;height:7.3px;background:#603030;"></div>
<div style="left:121.3px;top:96.7px;width:6.3px;height:7.3px;background:#a08060;"></div>
<div style="left:128.4px;top:96.7px;width:6.3px;height:7.3px;background:#606060;"></div>
<div style="left:135.5px;top:96.7px;width:6.3px;height:7.3px;background:#a09080;"></div>
<div style="left:142.6px;top:96.7px;width:6.3px;height:7.3px;background:#505050;"></div>
<div style="left:149.7px;top:96.7px;width:6.3px;height:7.3px;background:#707070;"></div>
<div style="left:156.8px;top:96.7px;width:6.3px;height:7.3px;background:#404040;"></div>
<div style="left:163.89999999999998px;top:96.7px;width:6.3px;height:7.3px;background:#303030;"></div>
<div style="left:64.5px;top:116.8px;width:85px;height:2.3px;background:#333;"></div>
<div style="left:64.5px;top:121.9px;width:62px;height:2.3px;background:#333;"></div>
<div style="left:64.5px;top:128.9px;width:88px;height:1.6px;background:#999;"></div>
<div style="left:64.5px;top:133.2px;width:88px;height:1.6px;background:#999;"></div>
<div style="left:64.5px;top:137.6px;width:88px;height:1.6px;background:#999;"></div>
<div style="left:64.5px;top:142px;width:56px;height:1.6px;background:#999;"></div>
<div style="left:64.5px;top:148px;width:16px;height:1.4px;background:#ccc;"></div>
<div style="left:84px;top:148px;width:20px;height:1.4px;background:#9cc0e0;"></div>
<div style="left:65.5px;top:153px;width:7.5px;height:7.5px;background:#ddd;"></div>
<div style="left:74.0px;top:153px;width:7.5px;height:7.5px;background:#8a6040;"></div>
<div style="left:82.5px;top:153px;width:7.5px;height:7.5px;background:#604030;"></div>
<div style="left:91.0px;top:153px;width:7.5px;height:7.5px;background:#a08060;"></div>
<div style="left:99.5px;top:153px;width:7.5px;height:7.5px;background:#503030;"></div>
<div style="left:165.4px;top:114.6px;width:19.6px;height:28.4px;background:linear-gradient(#a09080 0,#e0c0a0 40%,#2a3040 60%,#202530 100%);"></div>
<div style="left:60px;top:166px;width:130px;height:0.5px;background:#eee;"></div>
<div style="left:64.5px;top:172.6px;width:108px;height:2.3px;background:#333;"></div>
<div style="left:64.5px;top:177.7px;width:58px;height:2.3px;background:#333;"></div>
</div>
<svg width="1475" height="1101" viewBox="0 0 1475 1101">
<defs>
<marker id="ah" markerWidth="20" markerHeight="14" refX="19" refY="7" orient="auto" markerUnits="userSpaceOnUse"><path d="M0,0 L20,7 L0,14 z" fill="#959595"/></marker>
</defs>
<g fill="none" stroke="#8e8e8e" stroke-width="1.8" marker-end="url(#ah)">
<path d="M761,109 C766,117 780,128 770,131 C758,135 730,129 720,135 C715,139 720,148 727,159"/>
<path d="M666,229 C640,233 600,238 585,252 C575,262 578,280 578,300 C578,318 570,328 537,335"/>
<path d="M736,254 C736,265 734,278 745,290 C756,303 755,312 753,331"/>
<path d="M811,245 C870,265 921,282 921,306 C921,332 884,345 884,372 C884,395 936,438 961,476"/>
<path d="M811,234 L1070,313 C1110,325 1122,338 1121.7,352 C1121,368 1072,388 1068,413 C1064,440 1082,470 1092,495 C1104,525 1110,545 1106,556 L1079,575"/>
<path stroke-dasharray="12 7" d="M811,219 C900,228 1020,238 1110,252 C1165,262 1186,280 1183,315 C1180,350 1160,400 1158,425 C1157,442 1164,456 1180,470 L1245,524"/>
<path d="M459,423 L450,505"/>
<path d="M462.5,423 L462.6,522"/>
<path d="M466.7,423 L476,541"/>
<path d="M452,636 L458.7,720"/>
<path d="M463,636 L463,720"/>
<path d="M476.4,636 L467.7,720"/>
<path d="M734.3,424 L726.5,505"/>
<path d="M738.8,424 L739,524"/>
<path d="M743.1,424 L752.4,542"/>
<path d="M728,638 L735.2,720"/>
<path d="M739,638 L739.6,720"/>
<path d="M752.6,638 L744,720"/>
<path d="M392,816 C370,832 340,858 322,861 C300,862 285,852 270,854 C258,856 250,870 245,891"/>
<path d="M418,816 C405,826 390,836 393,844 C398,852 440,853 458,857 C472,861 474,870 466,889"/>
<path d="M761,816 C768,826 776,834 770,843 C762,852 738,856 728,862 C720,868 722,880 728,890"/>
<path d="M955,572 C930,590 890,615 884,645 C880,680 920,730 956,776 C974,799 986,820 985.5,840 C985,858 978,878 972.7,891.6"/>
<path d="M1020,684 C1015,698 1012,714 1014,728 C1017,752 1040,775 1062,795 C1078,810 1081,830 1079,845 C1078,860 1074,872 1072,882"/>
<path d="M1302,619 C1315,650 1330,700 1329,731 C1325,760 1300,780 1290,805 C1283,830 1284,860 1286,890"/>
</g>
</svg>
</body></html>
